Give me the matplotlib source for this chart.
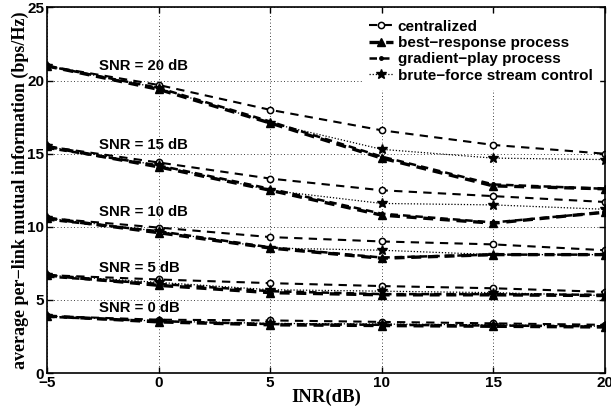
import matplotlib.pyplot as plt

inr = [-5, 0, 5, 10, 15, 20]
snr_labels = ['SNR = 20 dB', 'SNR = 15 dB', 'SNR = 10 dB', 'SNR = 5 dB', 'SNR = 0 dB']
label_y = [21.0, 15.6, 11.0, 7.2, 4.45]

# one list per SNR level (20, 15, 10, 5, 0 dB)
centralized = [
    [21.0, 19.7, 18.0, 16.6, 15.6, 15.0],
    [15.5, 14.4, 13.3, 12.5, 12.1, 11.7],
    [10.6, 9.95, 9.3, 9.0, 8.8, 8.4],
    [6.7, 6.4, 6.15, 5.95, 5.8, 5.55],
    [3.9, 3.65, 3.6, 3.5, 3.4, 3.3],
]
best_response = [
    [21.0, 19.4, 17.1, 14.7, 12.8, 12.6],
    [15.5, 14.1, 12.5, 10.8, 10.25, 11.0],
    [10.6, 9.6, 8.55, 7.85, 8.1, 8.1],
    [6.7, 6.0, 5.5, 5.35, 5.35, 5.3],
    [3.9, 3.5, 3.3, 3.25, 3.2, 3.15],
]
gradient_play = [
    [21.0, 19.5, 17.2, 14.8, 12.9, 12.6],
    [15.4, 14.2, 12.6, 10.9, 10.3, 11.0],
    [10.5, 9.7, 8.6, 7.9, 8.1, 8.1],
    [6.6, 6.1, 5.6, 5.4, 5.4, 5.35],
    [3.85, 3.55, 3.35, 3.3, 3.25, 3.2],
]
brute_force = [
    [21.0, 19.5, 17.1, 15.3, 14.7, 14.6],
    [15.5, 14.2, 12.5, 11.6, 11.5, 11.2],
    [10.6, 9.7, 8.55, 8.4, 8.1, 8.1],
    [6.7, 6.2, 5.7, 5.6, 5.5, 5.3],
    [3.9, 3.55, 3.4, 3.35, 3.3, 3.2],
]

fig, ax = plt.subplots(figsize=(6.11, 4.15), dpi=100)
fig.subplots_adjust(left=0.077, right=0.99, top=0.982, bottom=0.101)

for i in range(len(snr_labels)):
    lab = i == 0
    ax.plot(inr, centralized[i], color='black', linestyle=(0, (4, 3)), linewidth=1.5,
            marker='o', markersize=4.5, markerfacecolor='white', markeredgewidth=1.1,
            label='centralized' if lab else None)
    ax.plot(inr, best_response[i], color='black', linestyle=(0, (3, 2)), linewidth=2.4,
            marker='^', markersize=6, label='best\u2212response process' if lab else None)
    ax.plot(inr, gradient_play[i], color='black', linestyle=(0, (3, 2)), linewidth=1.8,
            marker='.', markersize=5, label='gradient\u2212play process' if lab else None)
    ax.plot(inr, brute_force[i], color='black', linestyle=(0, (1, 1.5)), linewidth=0.9,
            marker='*', markersize=7, label='brute\u2212force stream control' if lab else None)
    ax.text(-2.65, label_y[i], snr_labels[i], fontsize=10.7, fontweight='bold',
            family='Liberation Sans', va='center', ha='left')

ax.set_xlim(-5, 20)
ax.set_ylim(0, 25)
ax.set_xticks(inr)
ax.set_yticks([0, 5, 10, 15, 20, 25])
ax.grid(True, linestyle=(0, (1, 3)), color='black', linewidth=0.6)
ax.tick_params(direction='in', top=True, right=True, length=4, width=1, labelsize=11, pad=2)
for t in ax.get_xticklabels() + ax.get_yticklabels():
    t.set_fontweight('bold')
    t.set_family('Liberation Sans')
for s in ax.spines.values():
    s.set_linewidth(1.2)

ax.set_xlabel('INR(dB)', fontsize=13.5, fontweight='bold', family='Liberation Serif', labelpad=-1)
ax.set_ylabel('average per\u2212link mutual information (bps/Hz)', fontsize=13,
              fontweight='bold', family='Liberation Serif')
ax.yaxis.set_label_coords(-0.033, 0.5)

leg = ax.legend(loc='upper right', frameon=True, fancybox=False, edgecolor='white',
                framealpha=1, handlelength=1.6, handletextpad=0.3, labelspacing=0.15,
                borderaxespad=0.4, prop={'family': 'Liberation Sans', 'weight': 'bold', 'size': 11})

fig.savefig('out.png', dpi=100)
